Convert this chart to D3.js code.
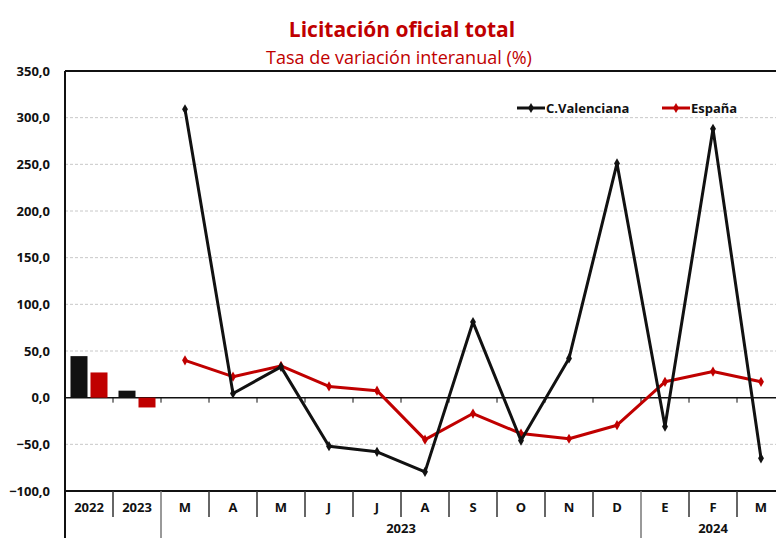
<!DOCTYPE html>
<html>
<head>
<meta charset="utf-8">
<script src="https://cdn.jsdelivr.net/npm/d3@7"></script>
<style>
  body { margin: 0; background: #fff; }
  text { font-family: "Liberation Sans Narrow", "Open Sans", sans-serif; }
</style>
</head>
<body>
<div id="chart"></div>
<script>
// categories: two annual bars then monthly points
const annualCats = ['2022', '2023'];
const monthCats = ['M', 'A', 'M', 'J', 'J', 'A', 'S', 'O', 'N', 'D', 'E', 'F', 'M'];
const groups = [
  {label: '', from: 0, to: 2},
  {label: '2023', from: 2, to: 12},
  {label: '2024', from: 12, to: 15}
];
const seriesNames = ['C.Valenciana', 'España'];
const annualCV = [44.5, 7.5];
const annualES = [27, -10.5];
const monthlyCV = [309, 4.5, 33, -52, -58, -79.5, 81, -46, 42, 251, -31, 288, -65];
const monthlyES = [40, 22.5, 34, 12, 7.5, -45, -17, -38.5, -44, -29.5, 17, 28, 17];
const yTicks = [-100, -50, 0, 50, 100, 150, 200, 250, 300, 350];

const W = 776, H = 538;
const margin = {top: 71, left: 65, bottom: 47};
const red = '#c00000';

const svg = d3.select('#chart').append('svg')
  .attr('width', W).attr('height', H);

const allCats = annualCats.concat(monthCats);
const x = d3.scaleBand()
  .domain(d3.range(allCats.length))
  .range([margin.left, margin.left + 48 * allCats.length]);
const y = d3.scaleLinear()
  .domain([-100, 350])
  .range([H - margin.bottom, margin.top]);

// title
svg.append('text').attr('x', 402).attr('y', 37)
  .attr('text-anchor', 'middle').attr('font-size', 21).attr('font-weight', 'bold')
  .attr('fill', red).text('Licitación oficial total');
svg.append('text').attr('x', 399).attr('y', 64)
  .attr('text-anchor', 'middle').attr('font-size', 18)
  .attr('fill', red).text('Tasa de variación interanual (%)');

// gridlines
svg.append('g').selectAll('line')
  .data(yTicks.filter(d => d !== 0 && d !== 350 && d !== -100))
  .enter().append('line')
  .attr('x1', margin.left).attr('x2', W)
  .attr('y1', d => y(d)).attr('y2', d => y(d))
  .attr('stroke', '#c8c8c8').attr('stroke-dasharray', '3,2').attr('stroke-width', 1);

// y labels
svg.append('g').selectAll('text')
  .data(yTicks).enter().append('text')
  .attr('x', 50).attr('y', d => y(d) + 4.5)
  .attr('text-anchor', 'end').attr('font-size', 13).attr('font-weight', 'bold')
  .attr('fill', '#111')
  .text(d => d3.format('.1f')(d).replace('.', ','));

// frame
svg.append('line').attr('x1', margin.left).attr('x2', W)
  .attr('y1', y(350)).attr('y2', y(350)).attr('stroke', '#111').attr('stroke-width', 2);
svg.append('line').attr('x1', margin.left).attr('x2', margin.left)
  .attr('y1', y(350)).attr('y2', H).attr('stroke', '#111').attr('stroke-width', 2);
svg.append('line').attr('x1', margin.left).attr('x2', W)
  .attr('y1', y(-100)).attr('y2', y(-100)).attr('stroke', '#111').attr('stroke-width', 2);

// zero line with small ticks
svg.append('line').attr('x1', margin.left).attr('x2', W)
  .attr('y1', y(0)).attr('y2', y(0)).attr('stroke', '#111').attr('stroke-width', 1.5);
svg.append('g').selectAll('line')
  .data(d3.range(1, allCats.length)).enter().append('line')
  .attr('x1', d => x(d)).attr('x2', d => x(d))
  .attr('y1', y(0)).attr('y2', y(0) + 5)
  .attr('stroke', '#111').attr('stroke-width', 1);

// bars
const bw = 17;
svg.append('g').selectAll('rect')
  .data(annualCV).enter().append('rect')
  .attr('x', (d, i) => x(i) + x.bandwidth() / 2 - bw - 1.5)
  .attr('width', bw)
  .attr('y', d => y(Math.max(0, d)))
  .attr('height', d => Math.abs(y(d) - y(0)))
  .attr('fill', '#111');
svg.append('g').selectAll('rect')
  .data(annualES).enter().append('rect')
  .attr('x', (d, i) => x(i) + x.bandwidth() / 2 + 1.5)
  .attr('width', bw)
  .attr('y', d => y(Math.max(0, d)))
  .attr('height', d => Math.abs(y(d) - y(0)))
  .attr('fill', red);

// lines
const line = d3.line()
  .x((d, i) => x(i + annualCats.length) + x.bandwidth() / 2)
  .y(d => y(d));
const diamond = d3.symbol().type(d3.symbolDiamond).size(30);

function drawSeries(vals, color) {
  svg.append('path').datum(vals)
    .attr('d', line).attr('fill', 'none')
    .attr('stroke', color).attr('stroke-width', 3).attr('stroke-linejoin', 'round');
  svg.append('g').selectAll('path')
    .data(vals).enter().append('path')
    .attr('d', diamond)
    .attr('transform', (d, i) => `translate(${x(i + annualCats.length) + x.bandwidth() / 2},${y(d)})`)
    .attr('fill', color);
}
drawSeries(monthlyES, red);
drawSeries(monthlyCV, '#111');

// category axis
const axisY = y(-100);
svg.append('g').selectAll('line')
  .data(d3.range(1, allCats.length)).enter().append('line')
  .attr('x1', d => x(d)).attr('x2', d => x(d))
  .attr('y1', axisY).attr('y2', d => groups.some(g => g.from === d) ? H : axisY + 26)
  .attr('stroke', d => groups.some(g => g.from === d) ? '#777' : '#333')
  .attr('stroke-width', 1.5);
svg.append('g').selectAll('text')
  .data(allCats).enter().append('text')
  .attr('x', (d, i) => x(i) + x.bandwidth() / 2)
  .attr('y', axisY + 21)
  .attr('text-anchor', 'middle').attr('font-size', 13).attr('font-weight', 'bold')
  .attr('fill', '#111').text(d => d);
svg.append('g').selectAll('text')
  .data(groups.filter(g => g.label)).enter().append('text')
  .attr('x', g => (x(g.from) + x(g.to - 1) + x.bandwidth()) / 2)
  .attr('y', axisY + 42)
  .attr('text-anchor', 'middle').attr('font-size', 13).attr('font-weight', 'bold')
  .attr('fill', '#111').text(g => g.label);

// legend
const legend = svg.append('g');
[{name: seriesNames[0], color: '#111', lx: 517}, {name: seriesNames[1], color: red, lx: 662}]
  .forEach(s => {
    legend.append('line').attr('x1', s.lx).attr('x2', s.lx + 28)
      .attr('y1', 108).attr('y2', 108).attr('stroke', s.color).attr('stroke-width', 3);
    legend.append('path').attr('d', diamond)
      .attr('transform', `translate(${s.lx + 14},108)`).attr('fill', s.color);
    legend.append('text').attr('x', s.lx + 29).attr('y', 112.5)
      .attr('font-size', 13).attr('font-weight', 'bold').attr('fill', '#111').text(s.name);
  });
</script>
</body>
</html>
